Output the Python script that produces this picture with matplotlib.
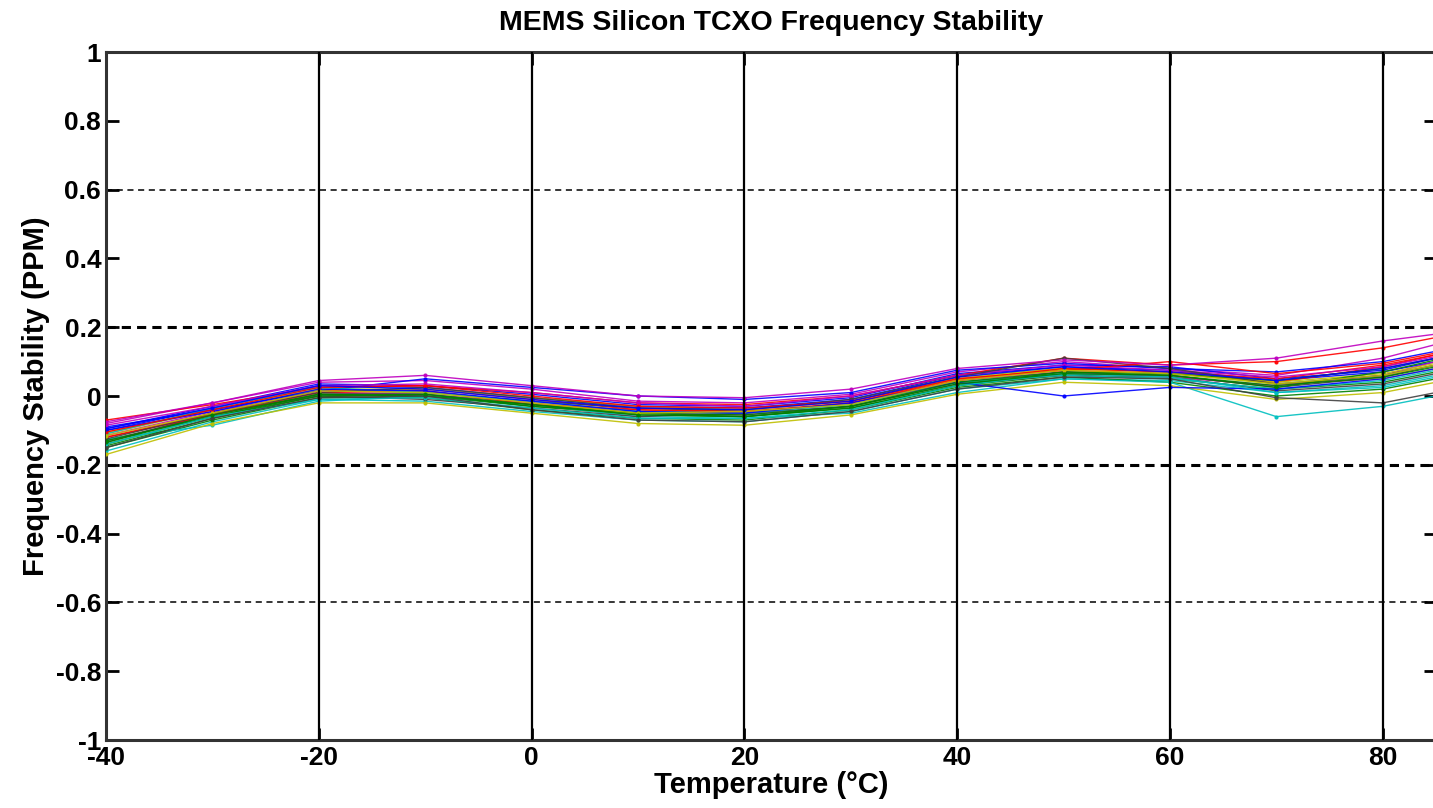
import matplotlib
matplotlib.use('Agg')
import matplotlib.pyplot as plt

plt.rcParams['font.family'] = ['Liberation Sans', 'DejaVu Sans']
plt.rcParams['font.weight'] = 'bold'
plt.rcParams['axes.unicode_minus'] = False

temps = [-40, -30, -20, -10, 0, 10, 20, 30, 40, 50, 60, 70, 80, 85]

# one row per measured part (PPM)
curves = [
    [-0.100, -0.035, 0.030, 0.025, -0.005, -0.030, -0.035, -0.010, 0.060, 0.085, 0.075, 0.045, 0.070, 0.100],
    [-0.140, -0.060, 0.000, 0.000, -0.030, -0.055, -0.060, -0.035, 0.030, 0.060, 0.050, 0.020, 0.040, 0.070],
    [-0.120, -0.050, 0.015, 0.020, -0.010, -0.040, -0.050, -0.020, 0.050, 0.075, 0.065, 0.040, 0.085, 0.120],
    [-0.160, -0.075, -0.010, -0.015, -0.045, -0.070, -0.075, -0.045, 0.020, 0.050, 0.045, 0.010, 0.030, 0.060],
    [-0.080, -0.020, 0.040, 0.045, 0.020, -0.015, -0.020, 0.005, 0.070, 0.100, 0.080, 0.060, 0.110, 0.150],
    [-0.110, -0.040, 0.020, 0.015, -0.020, -0.045, -0.040, -0.015, 0.055, 0.080, 0.070, 0.035, 0.050, 0.080],
    [-0.130, -0.055, 0.005, 0.010, -0.015, -0.035, -0.045, -0.025, 0.040, 0.065, 0.060, 0.025, 0.055, 0.090],
    [-0.095, -0.030, 0.035, 0.030, 0.005, -0.025, -0.030, -0.005, 0.065, 0.090, 0.085, 0.050, 0.075, 0.110],
    [-0.150, -0.070, -0.005, -0.005, -0.040, -0.065, -0.070, -0.040, 0.025, 0.055, 0.040, 0.000, 0.020, 0.050],
    [-0.070, -0.025, 0.025, 0.030, 0.010, -0.020, -0.025, 0.000, 0.060, 0.110, 0.090, 0.100, 0.140, 0.170],
    [-0.125, -0.085, -0.015, 0.000, -0.025, -0.060, -0.065, -0.050, 0.010, 0.050, 0.040, -0.060, -0.030, 0.000],
    [-0.115, -0.045, 0.010, 0.005, -0.020, -0.050, -0.055, -0.030, 0.045, 0.070, 0.055, 0.030, 0.060, 0.100],
    [-0.105, -0.040, 0.020, 0.020, -0.005, -0.030, -0.040, -0.015, 0.050, 0.080, 0.070, 0.040, 0.065, 0.095],
    [-0.135, -0.050, 0.000, -0.010, -0.035, -0.060, -0.050, -0.030, 0.035, 0.060, 0.055, 0.015, 0.035, 0.065],
    [-0.090, -0.040, 0.015, 0.050, 0.025, 0.000, -0.010, 0.010, 0.075, 0.095, 0.080, 0.070, 0.100, 0.130],
    [-0.145, -0.065, 0.000, 0.005, -0.030, -0.050, -0.060, -0.035, 0.030, 0.070, 0.065, 0.045, 0.080, 0.110],
    [-0.120, -0.055, 0.010, 0.015, -0.025, -0.040, -0.045, -0.020, 0.045, 0.080, 0.070, 0.050, 0.090, 0.120],
    [-0.110, -0.035, 0.025, 0.010, -0.015, -0.045, -0.050, -0.025, 0.040, 0.060, 0.050, 0.020, 0.045, 0.075],
    [-0.085, -0.030, 0.030, 0.035, 0.010, -0.020, -0.030, 0.000, 0.060, 0.090, 0.075, 0.055, 0.085, 0.115],
    [-0.170, -0.080, -0.020, -0.020, -0.050, -0.080, -0.085, -0.055, 0.005, 0.040, 0.030, -0.010, 0.010, 0.040],
    [-0.125, -0.050, 0.010, 0.025, -0.005, -0.035, -0.040, -0.010, 0.055, 0.110, 0.080, 0.035, 0.060, 0.090],
    [-0.100, -0.045, 0.020, 0.015, -0.015, -0.045, -0.050, -0.020, 0.040, 0.000, 0.025, 0.020, 0.050, 0.080],
    [-0.130, -0.060, 0.005, 0.000, -0.025, -0.050, -0.055, -0.030, 0.040, 0.070, 0.060, 0.025, 0.070, 0.105],
    [-0.105, -0.040, 0.025, 0.030, 0.000, -0.030, -0.035, -0.015, 0.050, 0.075, 0.100, 0.065, 0.095, 0.125],
    [-0.140, -0.060, -0.010, -0.005, -0.035, -0.065, -0.065, -0.040, 0.030, 0.065, 0.055, 0.010, 0.025, 0.055],
    [-0.075, -0.020, 0.045, 0.060, 0.030, 0.000, -0.005, 0.020, 0.080, 0.105, 0.090, 0.110, 0.160, 0.180],
    [-0.115, -0.050, 0.015, 0.010, -0.020, -0.050, -0.045, -0.025, 0.045, 0.075, 0.065, 0.035, 0.060, 0.090],
    [-0.150, -0.065, -0.005, 0.000, -0.040, -0.070, -0.075, -0.045, 0.020, 0.055, 0.050, -0.005, -0.020, 0.010],
    [-0.095, -0.035, 0.030, 0.020, -0.010, -0.035, -0.040, -0.015, 0.055, 0.085, 0.070, 0.045, 0.080, 0.110],
    [-0.135, -0.055, 0.005, 0.005, -0.025, -0.055, -0.060, -0.030, 0.035, 0.065, 0.060, 0.030, 0.055, 0.085],
]

line_colors = ['#0000ff', '#008000', '#ff0000', '#00bfbf', '#bf00bf', '#bfbf00', '#404040']
x_ticks = [-40, -20, 0, 20, 40, 60, 80]
y_ticks = [-1, -0.8, -0.6, -0.4, -0.2, 0, 0.2, 0.4, 0.6, 0.8, 1]
y_labels = ['-1', '-0.8', '-0.6', '-0.4', '-0.2', '0', '0.2', '0.4', '0.6', '0.8', '1']
limit_lines = [0.2, -0.2]
guide_lines = [0.6, -0.6]

fig = plt.figure(figsize=(14.33, 8.08), dpi=100)
ax = fig.add_axes([106 / 1433, 1 - 740 / 808, 1330 / 1433, 688 / 808])

for i, c in enumerate(curves):
    ax.plot(temps, c, color=line_colors[i % len(line_colors)], lw=1.0,
            marker='.', ms=4, alpha=0.9, zorder=3)

for y in limit_lines:
    ax.axhline(y, color='black', ls=(0, (3, 2)), lw=2.2, zorder=2)
for y in guide_lines:
    ax.axhline(y, color='black', ls=(0, (4, 3)), lw=1.1, zorder=2)
for x in x_ticks[1:]:
    ax.axvline(x, color='black', lw=1.6, zorder=4)

ax.set_xlim(-40, 85)
ax.set_ylim(-1, 1)
ax.set_xticks(x_ticks)
ax.set_yticks(y_ticks)
ax.set_yticklabels(y_labels)
ax.tick_params(direction='in', length=9, width=2, labelsize=19, top=True, right=True)
ax.tick_params(axis='x', pad=4)
for s in ax.spines.values():
    s.set_linewidth(2.2)
    s.set_color('#333333')

ax.set_title('MEMS Silicon TCXO Frequency Stability', fontsize=20.5, fontweight='bold', pad=16)
ax.set_xlabel('Temperature (°C)', fontsize=21, fontweight='bold', labelpad=1)
ax.set_ylabel('Frequency Stability (PPM)', fontsize=21, fontweight='bold', labelpad=4)

fig.savefig('out.png', dpi=100)
